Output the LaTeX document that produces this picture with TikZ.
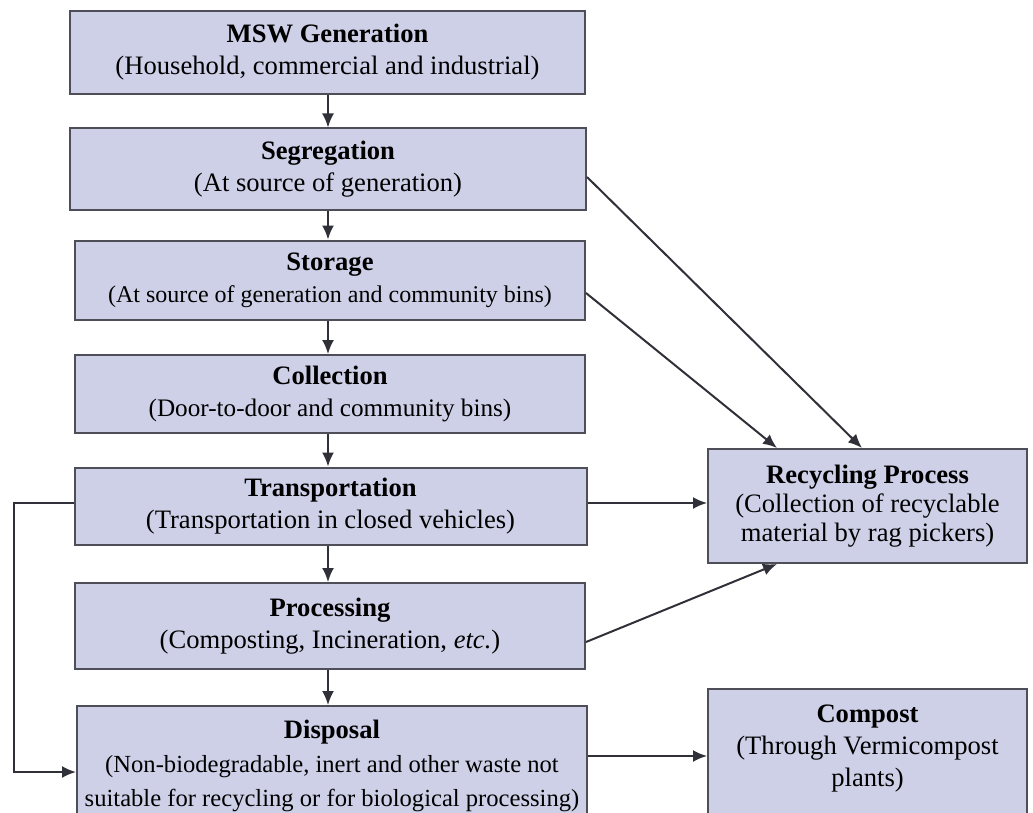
\documentclass[tikz,border=0pt]{standalone}
\usepackage{fontspec}
\setmainfont{Liberation Serif}
\usetikzlibrary{arrows.meta,positioning}

\definecolor{boxfill}{RGB}{206,208,232}
\definecolor{boxline}{RGB}{78,78,88}
\definecolor{arrowgray}{RGB}{48,48,56}

\begin{document}
\begin{tikzpicture}[x=0.5pt,y=-0.5pt,->,>={Latex[length=7pt,width=6pt]}]

            \tikzstyle{every node}=[font=\fontsize{13.3}{16}\selectfont]
            \tikzstyle{stage}=[rectangle,draw=boxline,fill=boxfill,line width=1pt,align=center,inner sep=0pt]
            \tikzstyle{flow}=[draw=arrowgray,line width=1pt]

            \clip[-] (0,0) rectangle (1033,813);

            \node[stage,minimum width=257.5pt,minimum height=41.5pt] (0) at (327.5,52.5) {\textbf{MSW Generation}\\(Household, commercial and industrial)};
            \node[stage,minimum width=258pt,minimum height=40.5pt]   (1) at (328,169) {\textbf{Segregation}\\(At source of generation)};
            \node[stage,minimum width=255pt,minimum height=39.5pt]   (2) at (330,280) {\textbf{Storage}\\{\fontsize{12}{15.5}\selectfont (At source of generation and community bins)}};
            \node[stage,minimum width=255pt,minimum height=39pt]     (3) at (330,394) {\textbf{Collection}\\{\fontsize{12.6}{15.5}\selectfont (Door-to-door and community bins)}};
            \node[stage,minimum width=256pt,minimum height=38.5pt]   (4) at (330.5,506) {\textbf{Transportation}\\(Transportation in closed vehicles)};
            \node[stage,minimum width=255pt,minimum height=43pt]     (5) at (330,626) {\textbf{Processing}\\(Composting, Incineration, \textit{etc.})};
            \node[stage,anchor=north,minimum width=255pt,inner ysep=6.8pt,text depth=50pt,font=\fontsize{13.3}{17}\selectfont] (6) at (332,705) {\textbf{Disposal}\\{\fontsize{12.3}{17}\selectfont (Non-biodegradable, inert and other waste not}\\{\fontsize{12.3}{17}\selectfont suitable for recycling or for biological processing)}};
            \node[stage,minimum width=159.5pt,minimum height=57pt,font=\fontsize{13.3}{14.5}\selectfont] (7) at (867.5,506) {\textbf{Recycling Process}\\(Collection of recyclable\\material by rag pickers)};
            \node[stage,anchor=north,minimum width=159.5pt,inner ysep=8pt,text depth=50pt] (8) at (867.5,688) {\textbf{Compost}\\(Through Vermicompost\\plants)};

            \foreach \a/\b in {0/1,1/2,2/3,3/4,4/5,5/6}
                \draw[flow] (\a.south -| 1.south) -- (\b.north -| 1.south);

            \draw[flow] ([yshift=-4pt]1.east) -- ([xshift=-2.75pt]7.north);
            \draw[flow] ([yshift=-6.5pt]2.east) -- ([xshift=35pt]7.north west);
            \draw[flow] ([yshift=1.5pt]4.east) -- ([yshift=1.5pt]4.east -| 7.west);
            \draw[flow] ([yshift=-8pt]5.east) -- ([xshift=35pt]7.south west);

            \coordinate (6a) at ([yshift=-25.5pt]6.north east);
            \coordinate (6b) at ([yshift=-33.5pt]6.north west);
            \draw[flow] (6a) -- (6a -| 8.west);
            \draw[flow] ([yshift=1.75pt]4.west) -- ++(-30pt,0) |- (6b);
        \end{tikzpicture}
\end{document}
